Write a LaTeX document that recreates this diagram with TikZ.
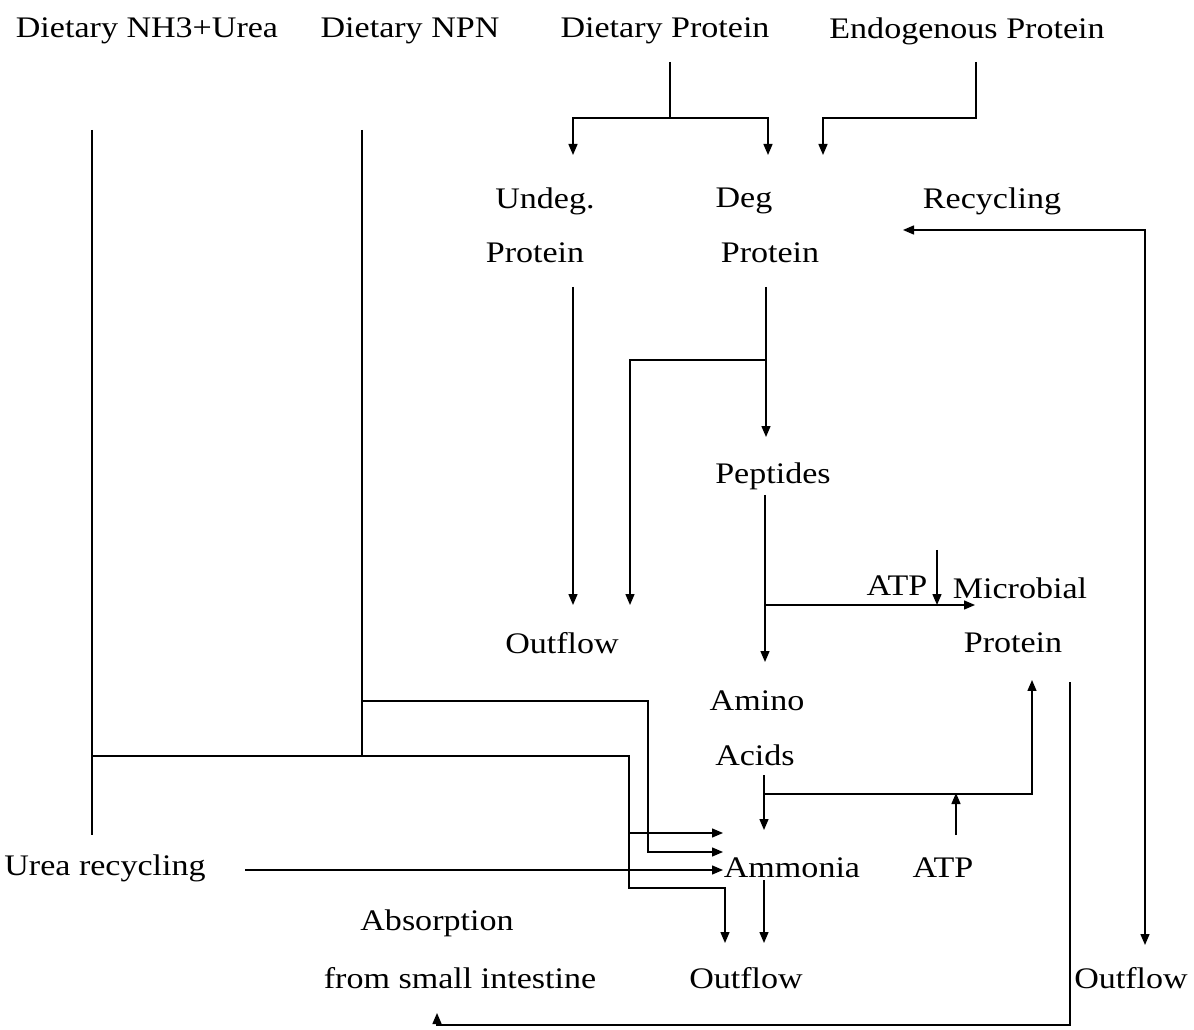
\documentclass[tikz,border=0pt]{standalone}
\usepackage{fontspec}
\setmainfont{Liberation Serif}[FakeStretch=1.14]
\usetikzlibrary{arrows.meta, positioning}

\begin{document}
\begin{tikzpicture}[
        x=0.02cm, y=-0.02cm,
        >={Triangle[length=0.22cm, width=0.18cm]},
        flow/.style={line width=0.8pt},
        txt/.style={font=\fontsize{17}{20}\selectfont, inner sep=0pt, yshift=-0.06cm}
    ]
        \useasboundingbox (0,0) rectangle (1194,1030);

        % Sources
        \node[txt] (nh3) at (147,28) {Dietary NH3+Urea};
        \node[txt] (npn) at (410,28) {Dietary NPN};
        \node[txt] (dprot) at (665,28) {Dietary Protein};
        \node[txt] (endo) at (967,28) {Endogenous Protein};

        % Rumen pools
        \node[txt] (undeg) at (545,198) {Undeg.};
        \node[txt] (undegp) at (535,250) {Protein};
        \node[txt] (deg) at (744,198) {Deg};
        \node[txt] (degp) at (770,250) {Protein};
        \node[txt] (recyc) at (992,198) {Recycling};
        \node[txt] (pept) at (773,473) {Peptides};
        \node[txt] (atpa) at (897,583) {ATP};
        \node[txt] (micro) at (1020,585) {Microbial};
        \node[txt] (microp) at (1013,640) {Protein};
        \node[txt] (outa) at (562,640) {Outflow};
        \node[txt] (amino) at (757,698) {Amino};
        \node[txt] (acids) at (755,752) {Acids};
        \node[txt] (ammon) at (792,865) {Ammonia};
        \node[txt] (atpb) at (943,865) {ATP};
        \node[txt] (urea) at (105,865) {Urea recycling};
        \node[txt] (absorb) at (437,920) {Absorption};
        \node[txt] (small) at (460,975) {from small intestine};
        \node[txt] (outb) at (746,975) {Outflow};
        \node[txt] (outc) at (1131,975) {Outflow};

        % Junctions
        \coordinate (dpSplit) at (670,118);
        \coordinate (degSplit) at (766,360);
        \coordinate (peptSplit) at (765,605);
        \coordinate (aaSplit) at (764,794);
        \coordinate (npnSplit) at (362,701);
        \coordinate (nh3Split) at (92,756);
        \coordinate (nh3Drop) at (629,833);

        % Dietary and endogenous protein
        \draw[flow] (670,62) -- (dpSplit);
        \draw[flow,->] (dpSplit) -| (573,155);
        \draw[flow,->] (dpSplit) -| (768,155);
        \draw[flow,->] (976,62) -- (976,118) -| (823,155);

        % Recycling of microbial protein
        \draw[flow,<->] (903,230) -| (1145,945);

        % Undegraded / degraded protein
        \draw[flow,->] (573,287) -- (573,605);
        \draw[flow,->] (766,287) -- (766,437);
        \draw[flow,->] (degSplit) -| (630,605);

        % Peptides
        \draw[flow,->] (765,495) -- (765,662);
        \draw[flow,->] (peptSplit) -- (975,605);
        \draw[flow,->] (937,550) -- (937,605);

        % Amino acids
        \draw[flow,->] (764,775) -- (764,830);
        \draw[flow,->] (aaSplit) -| (1032,680);
        \draw[flow,->] (956,835) -- (956,793);

        % Microbial protein to small intestine
        \draw[flow,->] (1070,682) |- (437,1025) -- (437,1013);

        % NPN and NH3 + urea
        \draw[flow] (92,130) -- (92,835);
        \draw[flow] (362,130) -- (362,756);
        \draw[flow,->] (nh3Split) -| (nh3Drop) |- (725,888) -- (725,943);
        \draw[flow,->] (nh3Drop) -- (723,833);
        \draw[flow,->] (npnSplit) -| (648,852) -- (723,852);
        \draw[flow,->] (245,870) -- (723,870);
        \draw[flow,->] (764,880) -- (764,943);

    \end{tikzpicture}
\end{document}
